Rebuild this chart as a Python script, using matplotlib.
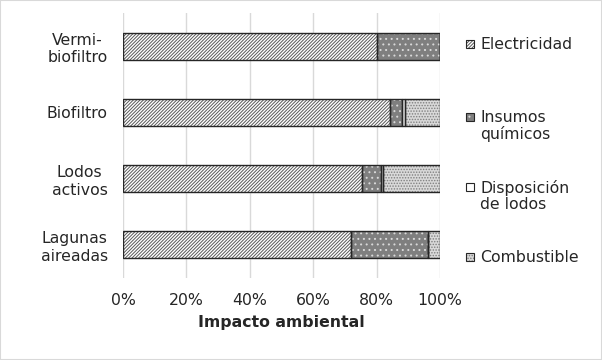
import matplotlib.pyplot as plt
from matplotlib.patches import Rectangle

# Datos (porcentaje del impacto ambiental)
tecnologias = ["Vermi-\nbiofiltro", "Biofiltro", "Lodos\nactivos", "Lagunas\naireadas"]
electricidad = [80.1, 84.2, 75.3, 71.9]
insumos = [19.9, 3.9, 6.0, 24.2]
disposicion = [0.0, 0.8, 0.6, 0.0]
combustible = [0.0, 11.1, 18.1, 3.9]
etiquetas = ["Electricidad", "Insumos\nquímicos", "Disposición\nde lodos", "Combustible"]
ticks_x = [0, 20, 40, 60, 80, 100]

plt.rcParams["font.family"] = "DejaVu Sans"
plt.rcParams["hatch.linewidth"] = 0.7

# estilo de cada serie: relleno, patrón, color del patrón
estilos = [
    ("white", "//////////", "#595959"),
    ("#7f7f7f", "...", "#d9d9d9"),
    ("white", "", "white"),
    ("#d9d9d9", "......", "#7f7f7f"),
]
series = [electricidad, insumos, disposicion, combustible]

fig = plt.figure(figsize=(6.02, 3.6), dpi=100)
ax = fig.add_axes([0.2043, 0.2278, 0.5266, 0.7361])

y = list(range(len(tecnologias)))
izquierda = [0.0] * len(tecnologias)
for valores, (fondo, patron, color_patron) in zip(series, estilos):
    ax.barh(y, valores, left=izquierda, height=0.41, color=fondo,
            hatch=patron, edgecolor=color_patron, linewidth=0, zorder=2)
    ax.barh(y, valores, left=izquierda, height=0.41, fill=False,
            edgecolor="#262626", linewidth=1.0, zorder=3)
    izquierda = [a + b for a, b in zip(izquierda, valores)]

ax.set_xlim(0, 100)
ax.set_ylim(3.5, -0.5)
ax.set_xticks(ticks_x)
ax.set_xticklabels([f"{t}%" for t in ticks_x], fontsize=11.3, color="#262626")
ax.set_yticks(y)
ax.set_yticklabels(tecnologias, fontsize=11.3, color="#262626",
                   multialignment="center")
ax.tick_params(length=0, pad=11)
ax.xaxis.grid(True, color="#d9d9d9", linewidth=1.0, zorder=0)
ax.set_axisbelow(True)
for s in ax.spines.values():
    s.set_visible(False)
ax.set_xlabel("Impacto ambiental", fontsize=11.3, fontweight="bold",
              color="#262626", labelpad=5)

# leyenda dibujada a mano (posición de la primera línea de cada entrada)
pos_leyenda = [44, 117, 187, 257]
W, H = 602, 360
for (fondo, patron, color_patron), etiqueta, py in zip(estilos, etiquetas, pos_leyenda):
    fig.add_artist(Rectangle((466 / W, 1 - (py + 4) / H), 8 / W, 8 / H,
                             transform=fig.transFigure, facecolor=fondo,
                             hatch=patron, edgecolor=color_patron, linewidth=0))
    fig.add_artist(Rectangle((466 / W, 1 - (py + 4) / H), 8 / W, 8 / H,
                             transform=fig.transFigure, fill=False,
                             edgecolor="#262626", linewidth=0.8))
    fig.text(480 / W, 1 - (py - 7) / H, etiqueta, fontsize=11.3,
             color="#262626", ha="left", va="top", linespacing=1.05)

fig.add_artist(Rectangle((0, 0), 1, 1, transform=fig.transFigure, fill=False,
                         edgecolor="#d9d9d9", linewidth=1.5))

plt.savefig("out.png", dpi=100)
